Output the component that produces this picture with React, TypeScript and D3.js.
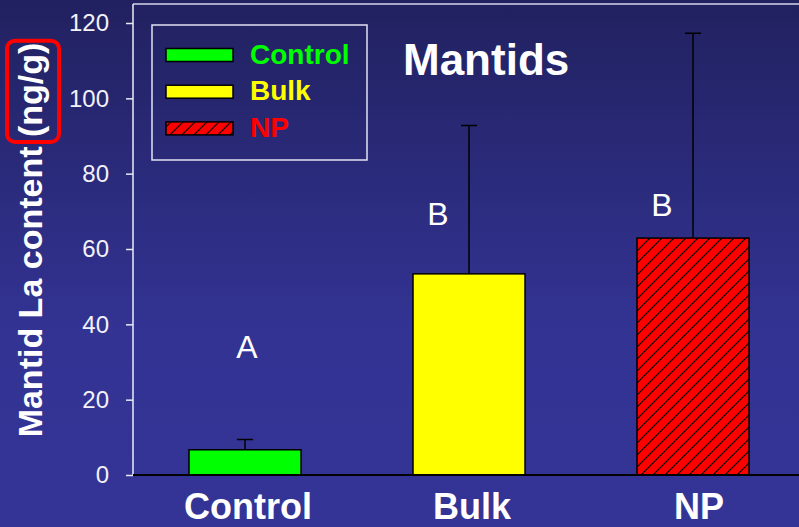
import React, { useRef, useEffect } from "react";
import * as d3 from "d3";

// bar chart values
const groups = ["Control", "Bulk", "NP"];
const means = [6.7, 53.4, 62.9];
const upperErr = [9.4, 92.8, 117.3];
const yTicks = [0, 20, 40, 60, 80, 100, 120];

// significance letters and the y value they sit at
const letters = ["A", "B", "B"];
const letterLevels = [31, 66.5, 68.8];

const barColors = ["#00ff00", "#ffff00", "#ff0000"];
const FONT = "'Liberation Sans', Arial, Helvetica, sans-serif";

const App = () => {
    const svgRef = useRef(null);

    const width = 799;
    const height = 527;
    const left = 133;
    const top = 4;
    const base = 475;

    useEffect(() => {
        const svg = d3.select(svgRef.current);
        svg.selectAll("*").remove();

        const defs = svg.append("defs");
        const grad = defs.append("linearGradient")
            .attr("id", "bg")
            .attr("x1", 0).attr("y1", 0).attr("x2", 0).attr("y2", 1);
        grad.append("stop").attr("offset", 0).attr("stop-color", "#212160");
        grad.append("stop").attr("offset", 0.63).attr("stop-color", "#333394");
        grad.append("stop").attr("offset", 1).attr("stop-color", "#343496");

        const hatch = defs.append("pattern")
            .attr("id", "hatch")
            .attr("patternUnits", "userSpaceOnUse")
            .attr("width", 12).attr("height", 12);
        hatch.append("rect").attr("width", 12).attr("height", 12).attr("fill", "#ff0000");
        hatch.append("path")
            .attr("d", "M0,12 L12,0 M-3,3 L3,-3 M9,15 L15,9")
            .attr("stroke", "#000").attr("stroke-width", 1.2);

        const fillFor = (i) => (i === 2 ? "url(#hatch)" : barColors[i]);

        svg.append("rect")
            .attr("width", width).attr("height", height)
            .attr("fill", "url(#bg)");

        const x = d3.scaleBand()
            .domain(groups)
            .range([left, 805])
            .paddingInner(0.5)
            .paddingOuter(0.25);

        const y = d3.scaleLinear()
            .domain([0, 120])
            .range([base, 23]);

        // frame: top line + y axis
        svg.append("line")
            .attr("x1", left).attr("x2", width)
            .attr("y1", top).attr("y2", top)
            .attr("stroke", "#d4d4ee").attr("stroke-width", 1.5);

        const yAxis = d3.axisLeft(y).tickValues(yTicks).tickSize(7).tickPadding(17);
        const gy = svg.append("g")
            .attr("transform", `translate(${left},0)`)
            .call(yAxis);
        gy.select(".domain").remove();
        gy.selectAll(".tick line").attr("stroke", "#e8e8f4").attr("stroke-width", 1.5);
        gy.selectAll(".tick text")
            .attr("fill", "#f2f2f8")
            .attr("font-family", FONT)
            .attr("font-size", 24);
        svg.append("line")
            .attr("x1", left).attr("x2", left)
            .attr("y1", top).attr("y2", base)
            .attr("stroke", "#ececf6").attr("stroke-width", 1.5);

        // bars
        svg.selectAll(".bar")
            .data(means)
            .enter().append("rect")
            .attr("class", "bar")
            .attr("x", (d, i) => x(groups[i]))
            .attr("y", (d) => y(d))
            .attr("width", x.bandwidth())
            .attr("height", (d) => y(0) - y(d))
            .attr("fill", (d, i) => fillFor(i))
            .attr("stroke", "#000")
            .attr("stroke-width", 1.5);

        // upper error whiskers
        const cx = (i) => x(groups[i]) + x.bandwidth() / 2;
        svg.selectAll(".err")
            .data(upperErr)
            .enter().append("path")
            .attr("class", "err")
            .attr("d", (d, i) =>
                `M${cx(i)},${y(means[i])}V${y(d)}M${cx(i) - 8},${y(d)}H${cx(i) + 8}`)
            .attr("fill", "none")
            .attr("stroke", "#000")
            .attr("stroke-width", 1.5);

        // x axis baseline
        svg.append("line")
            .attr("x1", left).attr("x2", width)
            .attr("y1", base).attr("y2", base)
            .attr("stroke", "#000").attr("stroke-width", 2);

        // group labels
        svg.selectAll(".xlab")
            .data(groups)
            .enter().append("text")
            .attr("class", "xlab")
            .attr("x", (d, i) => cx(i) + (i === 2 ? 6 : 3))
            .attr("y", 519)
            .attr("text-anchor", "middle")
            .attr("font-family", FONT)
            .attr("font-weight", "bold")
            .attr("font-size", 36)
            .attr("fill", "#fff")
            .text((d) => d);

        // significance letters
        svg.selectAll(".letter")
            .data(letters)
            .enter().append("text")
            .attr("class", "letter")
            .attr("x", (d, i) => (i === 0 ? cx(i) + 2 : cx(i) - 31))
            .attr("y", (d, i) => y(letterLevels[i]))
            .attr("text-anchor", "middle")
            .attr("font-family", FONT)
            .attr("font-size", 32)
            .attr("fill", "#fff")
            .text((d) => d);

        // title
        svg.append("text")
            .attr("x", 403).attr("y", 75)
            .attr("font-family", FONT)
            .attr("font-weight", "bold")
            .attr("font-size", 44)
            .attr("fill", "#fff")
            .text("Mantids");

        // legend
        svg.append("rect")
            .attr("x", 152).attr("y", 25)
            .attr("width", 215).attr("height", 135)
            .attr("fill", "none")
            .attr("stroke", "#e2e2f2").attr("stroke-width", 1.5);
        const lg = svg.selectAll(".lg")
            .data(groups)
            .enter().append("g")
            .attr("class", "lg")
            .attr("transform", (d, i) => `translate(0,${63.5 + i * 36.7})`);
        lg.append("rect")
            .attr("x", 166).attr("y", -15)
            .attr("width", 67).attr("height", 13)
            .attr("fill", (d, i) => fillFor(i))
            .attr("stroke", "#000").attr("stroke-width", 1.5);
        lg.append("text")
            .attr("x", 250)
            .attr("font-family", FONT)
            .attr("font-weight", "bold")
            .attr("font-size", 28)
            .attr("fill", (d, i) => barColors[i])
            .text((d) => d);

        // y axis title with the red highlight around the unit
        const label = "Mantid La content (ng/g)";
        const gl = svg.append("g").attr("transform", "translate(42,240) rotate(-90)");
        const t = gl.append("text")
            .attr("text-anchor", "middle")
            .attr("font-family", FONT)
            .attr("font-weight", "bold")
            .attr("font-size", 34)
            .attr("fill", "#fff")
            .text(label);
        const node = t.node();
        const total = node.getComputedTextLength();
        const idx = label.indexOf("(");
        const startX = -total / 2 + node.getSubStringLength(0, idx);
        gl.append("rect")
            .attr("x", startX - 5)
            .attr("y", -35)
            .attr("width", total / 2 - startX + 7)
            .attr("height", 52)
            .attr("rx", 8)
            .attr("fill", "none")
            .attr("stroke", "#ff0000")
            .attr("stroke-width", 4);
    }, []);

    return (
        <svg
            ref={svgRef}
            width={width}
            height={height}
            style={{ position: "absolute", left: 0, top: 0, display: "block" }}
        ></svg>
    );
};

export default App;
